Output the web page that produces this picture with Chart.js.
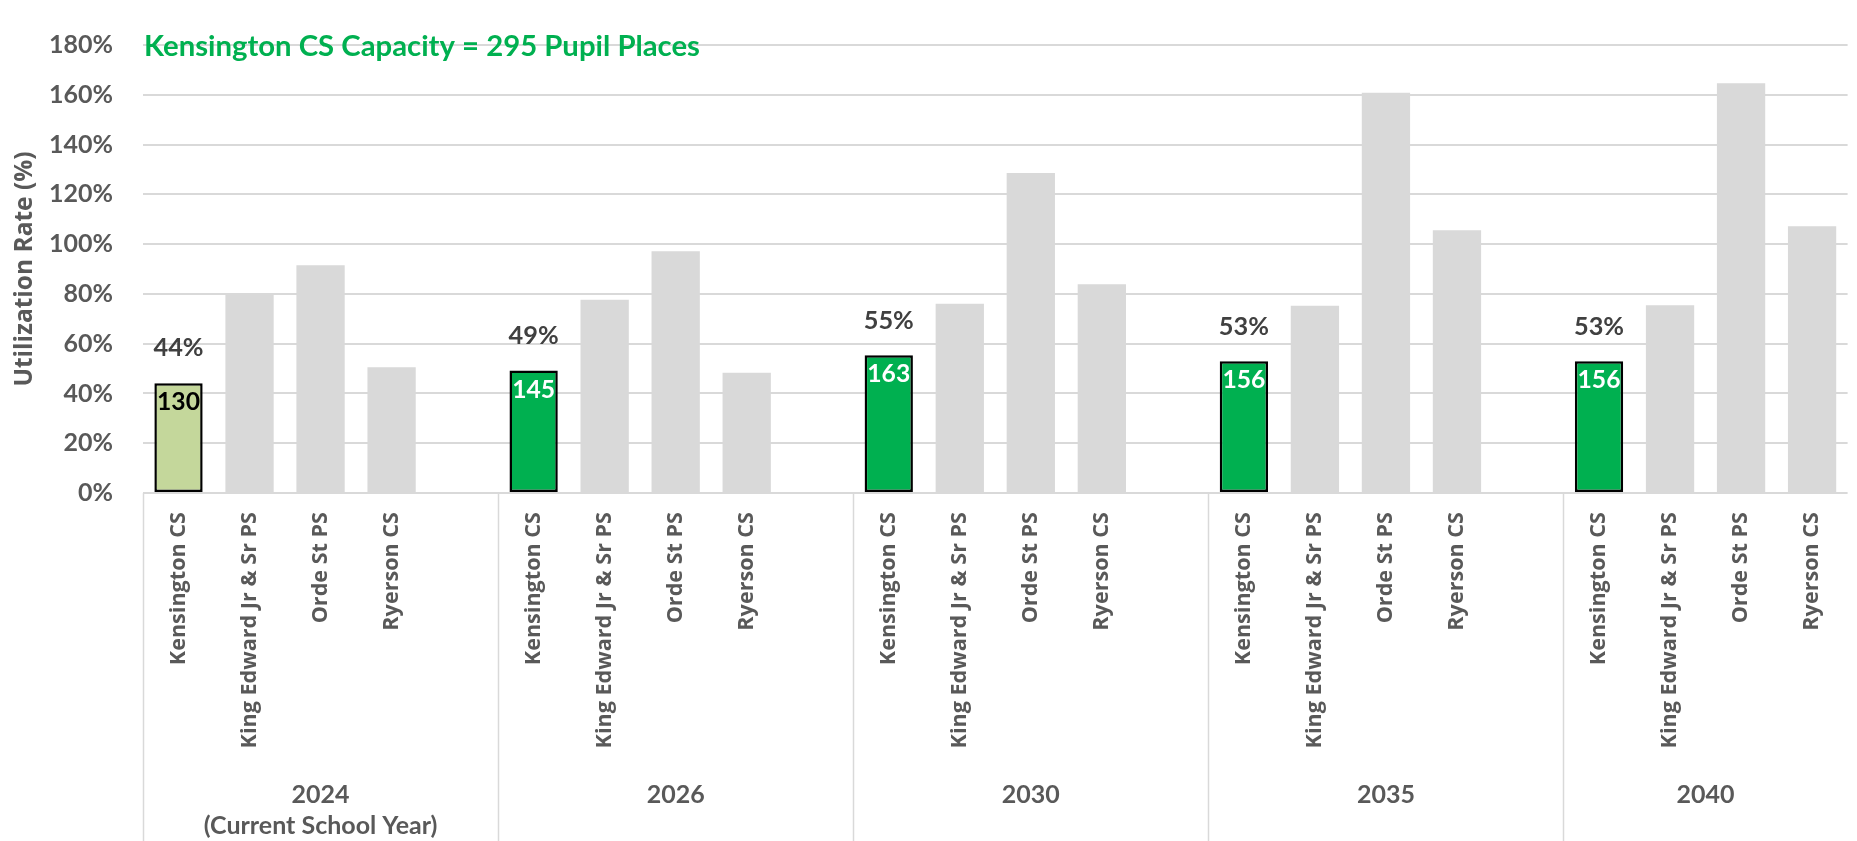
<!DOCTYPE html>
<html>
<head>
<meta charset="utf-8">
<script src="https://cdn.jsdelivr.net/npm/chart.js@4.4.1/dist/chart.umd.min.js"></script>
<style>
html,body{margin:0;padding:0;background:#fff;overflow:hidden;}
#wrap{width:1857px;height:841px;position:relative;}
</style>
</head>
<body>
<div id="wrap"><canvas id="c" width="1857" height="841"></canvas></div>
<script>
// ---- data ----
const years = ['2024', '2026', '2030', '2035', '2040'];
const groupLabels = [['2024', '(Current School Year)'], ['2026'], ['2030'], ['2035'], ['2040']];
const schools = ['Kensington CS', 'King Edward Jr & Sr PS', 'Orde St PS', 'Ryerson CS'];
const kensington = [44.1, 49.2, 55.3, 52.9, 52.9];
const kingEdward = [80.0, 77.6, 76.0, 75.2, 75.4];
const ordeSt = [91.5, 97.1, 128.6, 160.8, 164.6];
const ryerson = [50.5, 48.3, 83.9, 105.6, 107.2];
const kensingtonPctLabels = ['44%', '49%', '55%', '53%', '53%'];
const kensingtonPupils = ['130', '145', '163', '156', '156'];
const yTicks = [0, 20, 40, 60, 80, 100, 120, 140, 160, 180];
const capacityNote = 'Kensington CS Capacity = 295 Pupil Places';

// ---- build chart table ----
const series = [kensington, kingEdward, ordeSt, ryerson];
const labels = [], values = [], bgs = [], bcs = [], bws = [];
years.forEach((y, g) => {
  schools.forEach((s, k) => {
    labels.push(s);
    values.push(series[k][g]);
    if (k === 0) {
      bgs.push(g === 0 ? '#c4d79b' : '#00b050');
      bcs.push('#000000');
      bws.push(2.5);
    } else {
      bgs.push('#d9d9d9');
      bcs.push('rgba(0,0,0,0)');
      bws.push(0);
    }
  });
  if (g < years.length - 1) { // spacer slot between year groups
    labels.push('');
    values.push(null);
    bgs.push('rgba(0,0,0,0)');
    bcs.push('rgba(0,0,0,0)');
    bws.push(0);
  }
});

// ---- font fitting helper ----
const mctx = document.createElement('canvas').getContext('2d');
function fit(text, family, target) {
  mctx.font = 'bold 100px ' + family;
  const w = mctx.measureText(text).width;
  return Math.round(target / w * 1000) / 10;
}
const F_NUM = 'Lato';
const F_SANS = '"Open Sans"';
const fsTick = fit('180%', F_NUM, 64);
const fsPct = fit('44%', F_NUM, 50);
const fsIn = fit('130', F_NUM, 43);
const fsNote = fit(capacityNote, F_NUM, 557);
const fsCat = fit('Kensington CS', F_SANS, 153);
const fsGroup = fit('(Current School Year)', F_NUM, 234);
const fsTitle = fit('Utilization Rate (%)', F_SANS, 235);

const GREY = '#595959';

const annot = {
  id: 'annot',
  afterDatasetsDraw(chart) {
    const ctx = chart.ctx;
    const meta = chart.getDatasetMeta(0);
    ctx.save();
    ctx.textAlign = 'center';
    ctx.textBaseline = 'middle';
    years.forEach((y, g) => {
      const el = meta.data[g * 5];
      ctx.font = 'bold ' + fsPct + 'px ' + F_NUM;
      ctx.fillStyle = '#404040';
      ctx.fillText(kensingtonPctLabels[g], el.x, el.y - 35);
      ctx.font = 'bold ' + fsIn + 'px ' + F_NUM;
      ctx.fillStyle = g === 0 ? '#000000' : '#ffffff';
      ctx.fillText(kensingtonPupils[g], el.x, el.y + 19);
    });
    // capacity note
    ctx.textAlign = 'left';
    ctx.textBaseline = 'alphabetic';
    ctx.font = 'bold ' + fsNote + 'px ' + F_NUM;
    ctx.fillStyle = '#00b050';
    ctx.fillText(capacityNote, chart.chartArea.left + 1, 56);
    ctx.restore();
  },
  afterDraw(chart) {
    const ctx = chart.ctx;
    const xs = chart.scales.x;
    const area = chart.chartArea;
    const slot = xs.getPixelForValue(1) - xs.getPixelForValue(0);
    const bounds = years.map((y, g) => xs.getPixelForValue(g * 5) - slot / 2);
    bounds.push(area.right);
    ctx.save();
    ctx.strokeStyle = '#d9d9d9';
    ctx.lineWidth = 1.5;
    for (let g = 0; g < years.length; g++) {
      const x = Math.round(bounds[g]) + 0.5;
      ctx.beginPath();
      ctx.moveTo(x, area.bottom);
      ctx.lineTo(x, chart.height);
      ctx.stroke();
    }
    ctx.fillStyle = GREY;
    ctx.textAlign = 'center';
    ctx.textBaseline = 'middle';
    ctx.font = 'bold ' + fsGroup + 'px ' + F_NUM;
    groupLabels.forEach((lines, g) => {
      const cx = (bounds[g] + bounds[g + 1]) / 2;
      lines.forEach((t, i) => ctx.fillText(t, cx, 795 + i * 31));
    });
    ctx.restore();
  }
};

new Chart(document.getElementById('c'), {
  type: 'bar',
  data: {
    labels: labels,
    datasets: [{
      data: values,
      backgroundColor: bgs,
      borderColor: bcs,
      borderWidth: bws,
      borderSkipped: false,
      barPercentage: 0.68,
      categoryPercentage: 1.0
    }]
  },
  options: {
    responsive: false,
    animation: false,
    events: [],
    layout: { padding: { top: 20, right: 0, left: 0, bottom: 0 } },
    plugins: { legend: { display: false }, tooltip: { enabled: false } },
    scales: {
      x: {
        offset: true,
        grid: { display: false, drawTicks: false },
        border: { display: false },
        ticks: {
          autoSkip: false, minRotation: 90, maxRotation: 90, padding: 19,
          color: GREY, font: { family: F_SANS, weight: 'bold', size: fsCat }
        },
        afterFit(s) { s.height = 841 - 493; }
      },
      y: {
        min: 0, max: 180,
        afterBuildTicks(s) { s.ticks = yTicks.map(v => ({ value: v })); },
        ticks: {
          padding: 30, color: GREY,
          font: { family: F_NUM, weight: 'bold', size: fsTick },
          callback: v => v + '%'
        },
        grid: { color: '#d9d9d9', lineWidth: 2, drawTicks: false },
        border: { display: false },
        title: {
          display: true, text: 'Utilization Rate (%)', color: GREY,
          font: { family: F_SANS, weight: 'bold', size: fsTitle },
          padding: { top: 10, bottom: 0 }
        },
        afterFit(s) { s.width = 143; }
      }
    }
  },
  plugins: [annot]
});
</script>
</body>
</html>
